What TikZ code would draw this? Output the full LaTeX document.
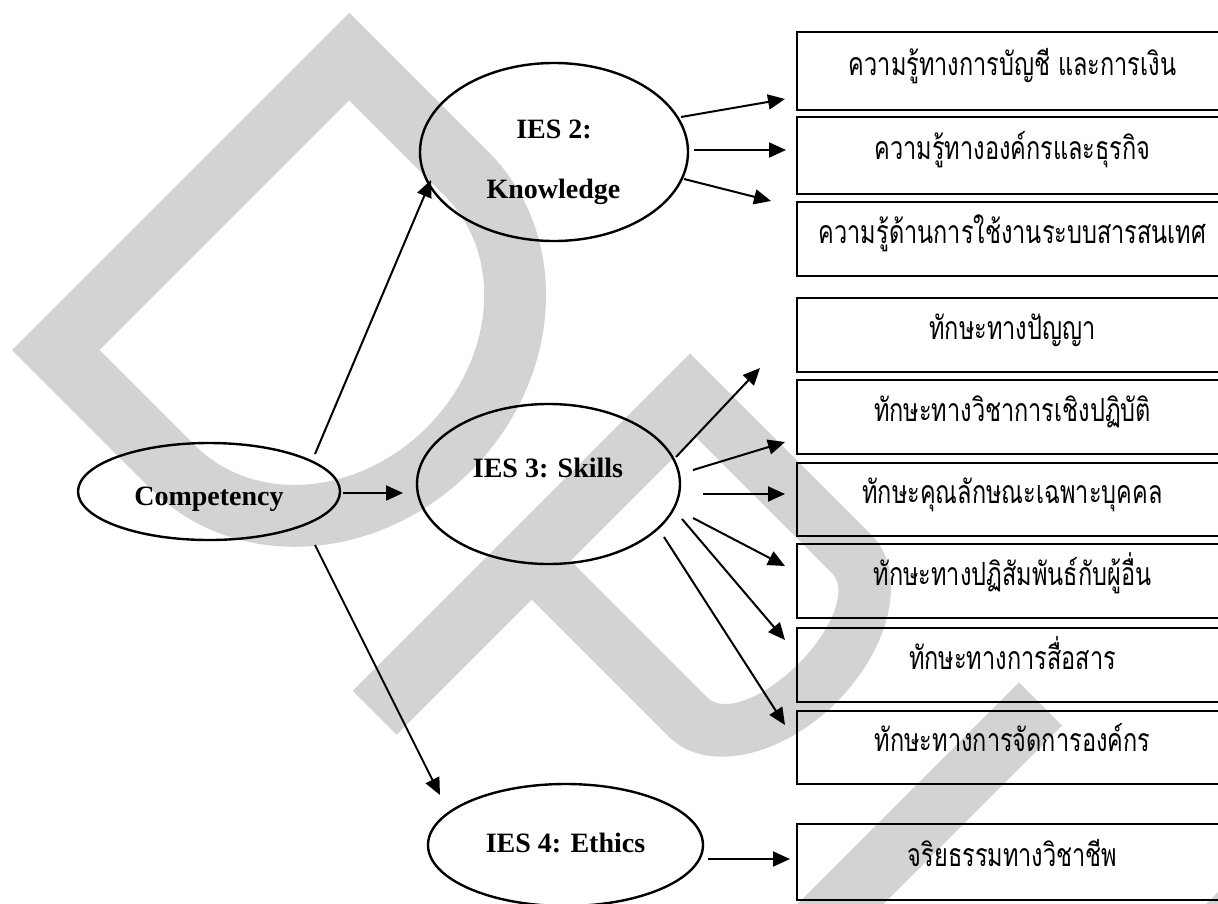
\documentclass[tikz,border=0pt]{standalone}
\usepackage{fontspec}
\setmainfont{Liberation Serif}
\newfontfamily\thaifont[Script=Thai,FakeStretch=0.735]{Loma}
\usetikzlibrary{shapes.geometric,arrows.meta}
\definecolor{wmgray}{RGB}{211,211,211}
\tikzset{
  oval/.style={draw, line width=2.4pt, ellipse, inner sep=0pt},
  ovaltext/.style={font=\fontsize{28}{31}\selectfont\bfseries, anchor=base, inner sep=0pt},
  itembox/.style={draw, line width=2pt, inner sep=0pt, minimum width=431pt,
    text height=8pt, text depth=-8pt, font=\thaifont\fontsize{32}{36}\selectfont},
  arr/.style={line width=2pt, -{Triangle[length=17pt,width=15pt]}},
  wm/.style={fill=wmgray, even odd rule, draw=none}
}
\begin{document}
\begin{tikzpicture}[x=1pt,y=-1pt]
\useasboundingbox (0,0) rectangle (1218,903);

% watermark letters D, P, U, set along a diagonal
\begin{scope}[shift={(12,350)}, x=1pt, y=1pt, rotate=-45]
  \fill[wm] (0,0) -- (0,477) -- (197,477)
      arc[start angle=90, end angle=-90, x radius=213, y radius=238.5] -- cycle
    (62,62) -- (62,415) -- (197,415)
      arc[start angle=90, end angle=-90, x radius=151, y radius=176.5] -- cycle;
  \fill[wm] (482,0) -- (482,477) -- (738,477)
      arc[start angle=90, end angle=-90, x radius=94, y radius=143]
      -- (544,191) -- (544,0) -- cycle
    (544,246) -- (544,422) -- (738,422)
      arc[start angle=90, end angle=-90, x radius=40, y radius=88] -- cycle;
  \fill[wm] (947,477) -- (947,150)
      arc[start angle=180, end angle=360, x radius=175, y radius=150]
      -- (1297,477) -- (1236,477) -- (1236,150)
      arc[start angle=0, end angle=-180, x radius=114, y radius=89]
      -- (1008,477) -- cycle;
\end{scope}

% ovals
\node[oval, minimum width=262pt, minimum height=97pt] (comp) at (209,491.5) {};
\node[oval, minimum width=268pt, minimum height=178pt] (ies2) at (554,152) {};
\node[oval, minimum width=263pt, minimum height=160pt] (ies3) at (548.5,484) {};
\node[oval, minimum width=275pt, minimum height=122pt] (ies4) at (565.5,845) {};

\node[ovaltext] (compt) at (209,505) {Competency};
\node[ovaltext] (ies2a) at (554,138) {IES 2:};
\node[ovaltext] (ies2b) at (553.5,198) {Knowledge};
\node[ovaltext] (ies3t) at (548,477) {IES 3: Skills};
\node[ovaltext] (ies4t) at (565.5,852) {IES 4: Ethics};

% item boxes
\node[itembox, minimum height=78pt] (k1) at (1012.5,71) {ความรู้ทางการบัญชี และการเงิน};
\node[itembox, minimum height=77pt] (k2) at (1012.5,155.5) {ความรู้ทางองค์กรและธุรกิจ};
\node[itembox, minimum height=74pt] (k3) at (1012.5,239) {ความรู้ด้านการใช้งานระบบสารสนเทศ};
\node[itembox, minimum height=74pt] (s1) at (1012.5,335) {ทักษะทางปัญญา};
\node[itembox, minimum height=74pt] (s2) at (1012.5,417) {ทักษะทางวิชาการเชิงปฏิบัติ};
\node[itembox, minimum height=73pt] (s3) at (1012.5,499.5) {ทักษะคุณลักษณะเฉพาะบุคคล};
\node[itembox, minimum height=74pt] (s4) at (1012.5,581) {ทักษะทางปฏิสัมพันธ์กับผู้อื่น};
\node[itembox, minimum height=74pt] (s5) at (1012.5,665) {ทักษะทางการสื่อสาร};
\node[itembox, minimum height=73pt] (s6) at (1012.5,747.5) {ทักษะทางการจัดการองค์กร};
\node[itembox, minimum height=76pt] (e1) at (1012.5,862) {จริยธรรมทางวิชาชีพ};

% arrow ends
\coordinate (c1s) at (315,454);   \coordinate (c1e) at (431,180);
\coordinate (c2s) at (343,493);   \coordinate (c2e) at (403,493);
\coordinate (c3s) at (315,545);   \coordinate (c3e) at (440,795);
\coordinate (k1s) at (681,117);   \coordinate (k1e) at (785,99);
\coordinate (k2s) at (694,150);   \coordinate (k2e) at (786,150);
\coordinate (k3s) at (684,179);   \coordinate (k3e) at (771,201);
\coordinate (s1s) at (676,457);   \coordinate (s1e) at (760,368);
\coordinate (s2s) at (693,470);   \coordinate (s2e) at (785,442);
\coordinate (s3s) at (703,494);   \coordinate (s3e) at (785,494);
\coordinate (s4s) at (693,518);   \coordinate (s4e) at (785,566);
\coordinate (s5s) at (682,519);   \coordinate (s5e) at (785,640);
\coordinate (s6s) at (664,537);   \coordinate (s6e) at (785,725);
\coordinate (e1s) at (708,859);   \coordinate (e1e) at (790,859);

\draw[arr] (c1s) -- (c1e);
\draw[arr] (c2s) -- (c2e);
\draw[arr] (c3s) -- (c3e);
\draw[arr] (k1s) -- (k1e);
\draw[arr] (k2s) -- (k2e);
\draw[arr] (k3s) -- (k3e);
\draw[arr] (s1s) -- (s1e);
\draw[arr] (s2s) -- (s2e);
\draw[arr] (s3s) -- (s3e);
\draw[arr] (s4s) -- (s4e);
\draw[arr] (s5s) -- (s5e);
\draw[arr] (s6s) -- (s6e);
\draw[arr] (e1s) -- (e1e);
\end{tikzpicture}
\end{document}
